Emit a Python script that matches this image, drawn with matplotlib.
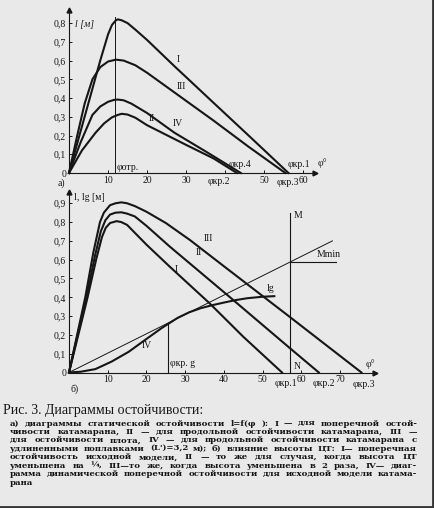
import matplotlib
matplotlib.use("Agg")
import matplotlib.pyplot as plt

plt.rcParams['font.family'] = ['Liberation Serif', 'DejaVu Serif']

# --- a) static stability, l = f(phi)
a_I_phi = [0, 4, 8, 10, 11, 12, 12.5, 13.5, 15, 17, 20, 27, 37, 46, 56.2]
a_I_l = [0, 0.30, 0.60, 0.74, 0.79, 0.815, 0.82, 0.815, 0.80, 0.765, 0.71, 0.57, 0.375, 0.20, 0]
a_III_phi = [0, 2, 4, 6, 8, 10, 12, 14, 17, 20, 27, 37, 46, 55.4]
a_III_l = [0, 0.19, 0.37, 0.50, 0.565, 0.595, 0.605, 0.60, 0.575, 0.535, 0.43, 0.28, 0.14, 0]
a_IV_phi = [0, 3, 6, 8, 10, 11.5, 12.5, 14, 16, 20, 27, 35, 44]
a_IV_l = [0, 0.165, 0.31, 0.355, 0.38, 0.39, 0.392, 0.388, 0.37, 0.32, 0.215, 0.115, 0]
a_II_phi = [0, 3.3, 6.8, 9, 11, 12.5, 13.5, 15, 17, 20, 30, 37, 43]
a_II_l = [0, 0.12, 0.215, 0.265, 0.297, 0.31, 0.316, 0.312, 0.295, 0.255, 0.15, 0.078, 0]
phi_otr = 11.9

# --- b) influence of CG height
b_I_phi = [0, 2.4, 4.8, 7, 8.5, 9.5, 10.6, 12.3, 13.5, 15, 20, 26, 36.3, 45, 55]
b_I_l = [0, 0.2, 0.4, 0.6, 0.72, 0.77, 0.795, 0.805, 0.80, 0.785, 0.68, 0.563, 0.368, 0.19, 0]
b_II_phi = [0, 2.2, 4.5, 6.7, 8.2, 9.4, 10.6, 12, 13.5, 15, 17, 20, 26, 41, 57, 64.5]
b_II_l = [0, 0.2, 0.4, 0.62, 0.75, 0.81, 0.84, 0.85, 0.852, 0.845, 0.83, 0.78, 0.67, 0.41, 0.13, 0]
b_III_phi = [0, 2.1, 4.2, 6.3, 8, 9, 10.6, 12, 13.5, 15, 17, 20, 25, 31.2, 40, 57.1, 75.5]
b_III_l = [0, 0.2, 0.4, 0.64, 0.8, 0.85, 0.89, 0.9, 0.905, 0.9, 0.885, 0.855, 0.795, 0.705, 0.565, 0.294, 0]
lg_phi = [0, 3, 6.8, 11, 15.4, 19.7, 23.9, 25.5, 28, 31, 34, 37, 40, 43, 46, 50, 53]
lg_l = [0, 0.004, 0.018, 0.058, 0.11, 0.174, 0.236, 0.257, 0.29, 0.32, 0.342, 0.358, 0.372, 0.385, 0.395, 0.403, 0.406]
tangent_phi = [0, 68]
tangent_l = [0, 0.70]
phi_M = 57.1
M_top = 0.85
Mmin = 0.59
Mmin_end = 69
phi_kr_g = 25.5

caption_title = "Рис. 3. Диаграммы остойчивости:"
caption_lines = [
    "а) диаграммы статической остойчивости l=f(φ ): I — для поперечной остой-",
    "чивости катамарана, II — для продольной остойчивости катамарана, III —",
    "для остойчивости плота, IV — для продольной остойчивости катамарана с",
    "удлиненными поплавками (L')=3,2 м); б) влияние высоты ЦТ: I— поперечная",
    "остойчивость исходной модели, II — то же для случая, когда высота ЦТ",
    "уменьшена на ¼, III—то же, когда высота уменьшена в 2 раза, IV— диаг-",
    "рамма динамической поперечной остойчивости для исходной модели катама-",
    "рана",
]

INK = '#161616'
BG = '#e9e9e9'
W, H = 434, 508


def setup_axes(ax, xmax, ymax, xticks, xlabels, yticks):
    ax.set_facecolor('none')
    ax.set_xlim(0, xmax)
    ax.set_ylim(0, ymax)
    for s in ('top', 'right'):
        ax.spines[s].set_visible(False)
    for s in ('left', 'bottom'):
        ax.spines[s].set_linewidth(0.8)
        ax.spines[s].set_color(INK)
    ax.set_xticks(xticks)
    ax.set_xticklabels(xlabels)
    ax.set_yticks(yticks)
    ax.set_yticklabels(['0'] + [f'{v:.1f}'.replace('.', ',') for v in yticks[1:]])
    ax.tick_params(direction='in', length=2.5, width=0.7, colors=INK,
                   labelsize=7, pad=2)
    ax.plot(1, 0, '>', color=INK, ms=3.5, transform=ax.transAxes, clip_on=False)
    ax.plot(0, 1, '^', color=INK, ms=3.5, transform=ax.transAxes, clip_on=False)


fig = plt.figure(figsize=(W / 100, H / 100), dpi=100, facecolor=BG)

# ---------------- a)
ax1 = fig.add_axes([69 / W, 1 - 173 / H, 246 / W, 163 / H])
setup_axes(ax1, 63, 0.87, [10, 20, 30, 40, 50, 60], ['10', '20', '30', '', '50', '60'],
           [0, 0.1, 0.2, 0.3, 0.4, 0.5, 0.6, 0.7, 0.8])
for xs, ys in [(a_I_phi, a_I_l), (a_III_phi, a_III_l), (a_IV_phi, a_IV_l), (a_II_phi, a_II_l)]:
    ax1.plot(xs, ys, color=INK, lw=1.5, solid_joinstyle='round', clip_on=False)
ax1.plot([phi_otr, phi_otr], [0, 0.835], color=INK, lw=0.7)

tk = dict(color=INK, fontsize=7)
ax1.text(27.7, 0.59, 'I', **tk)
ax1.text(27.5, 0.45, 'III', **tk)
ax1.text(26.5, 0.25, 'IV', **tk)
ax1.text(20.3, 0.28, 'II', **tk)
ax1.text(12.3, 0.015, 'φотр.', **tk)
ax1.text(40.8, 0.03, 'φкр.4', **tk)
ax1.text(35.6, -0.06, 'φкр.2', **tk)
ax1.text(56.0, 0.03, 'φкр.1', **tk)
ax1.text(53.2, -0.065, 'φкр.3', **tk)
ax1.text(63.6, 0.04, 'φ°', **tk)
ax1.text(1.5, 0.78, 'l [м]', style='italic', **tk)
ax1.text(-3, -0.07, 'а)', **tk)

# ---------------- b)
ax2 = fig.add_axes([69 / W, 1 - 372.5 / H, 306 / W, 180.5 / H])
setup_axes(ax2, 79, 0.96, [10, 20, 30, 40, 50, 60, 70], ['10', '20', '30', '40', '50', '60', '70'],
           [0, 0.1, 0.2, 0.3, 0.4, 0.5, 0.6, 0.7, 0.8, 0.9])
for xs, ys in [(b_I_phi, b_I_l), (b_II_phi, b_II_l), (b_III_phi, b_III_l), (lg_phi, lg_l)]:
    ax2.plot(xs, ys, color=INK, lw=1.5, solid_joinstyle='round', clip_on=False)
ax2.plot(tangent_phi, tangent_l, color=INK, lw=0.7)
ax2.plot([phi_M, phi_M], [0, M_top], color=INK, lw=0.8)
ax2.plot([phi_M, Mmin_end], [Mmin, Mmin], color=INK, lw=0.8)
ax2.plot([phi_kr_g, phi_kr_g], [0, 0.257], color=INK, lw=0.8)

ax2.text(34.8, 0.70, 'III', **tk)
ax2.text(32.6, 0.625, 'II', **tk)
ax2.text(27.4, 0.536, 'I', **tk)
ax2.text(51.0, 0.435, 'lg', **tk)
ax2.text(64.0, 0.612, 'Mmin', **tk)
ax2.text(58.0, 0.82, 'M', **tk)
ax2.text(58.0, 0.02, 'N', **tk)
ax2.text(18.8, 0.13, 'IV', **tk)
ax2.text(26.0, 0.035, 'φкр. g', **tk)
ax2.text(53.0, -0.07, 'φкр.1', **tk)
ax2.text(62.8, -0.07, 'φкр.2', **tk)
ax2.text(73.2, -0.075, 'φкр.3', **tk)
ax2.text(76.5, 0.03, 'φ°', **tk)
ax2.text(1.2, 0.915, 'l, lg [м]', **tk)
ax2.text(0.5, -0.1, 'б)', **tk)

# ---------------- caption
fig.text(3 / W, 1 - 414 / H, caption_title, fontsize=10, color=INK)

# body lines are justified word by word between two margins, like the book
renderer = fig.canvas.get_renderer()
x_left, x_right = 10, 417
for i, line in enumerate(caption_lines):
    y = 1 - (425.5 + i * 8.45) / H
    words = line.split()
    texts = [fig.text(0, y, w, fontsize=6.1, color=INK, fontweight='bold',
                      family=['DejaVu Serif']) for w in words]
    if i == len(caption_lines) - 1 or len(words) < 2:
        gap = 3.0
    else:
        widths = [t.get_window_extent(renderer).width for t in texts]
        gap = (x_right - x_left - sum(widths)) / (len(words) - 1)
    x = x_left
    for t in texts:
        t.set_x(x / W)
        x += t.get_window_extent(renderer).width + gap

# dark scan border on right and bottom
fig.add_artist(plt.Line2D([1 - 1 / W, 1 - 1 / W], [0, 1], transform=fig.transFigure, color='#333', lw=2))
fig.add_artist(plt.Line2D([0, 1], [1.5 / H, 1.5 / H], transform=fig.transFigure, color='#333', lw=2))

fig.savefig('out.png', dpi=100, facecolor=BG)
